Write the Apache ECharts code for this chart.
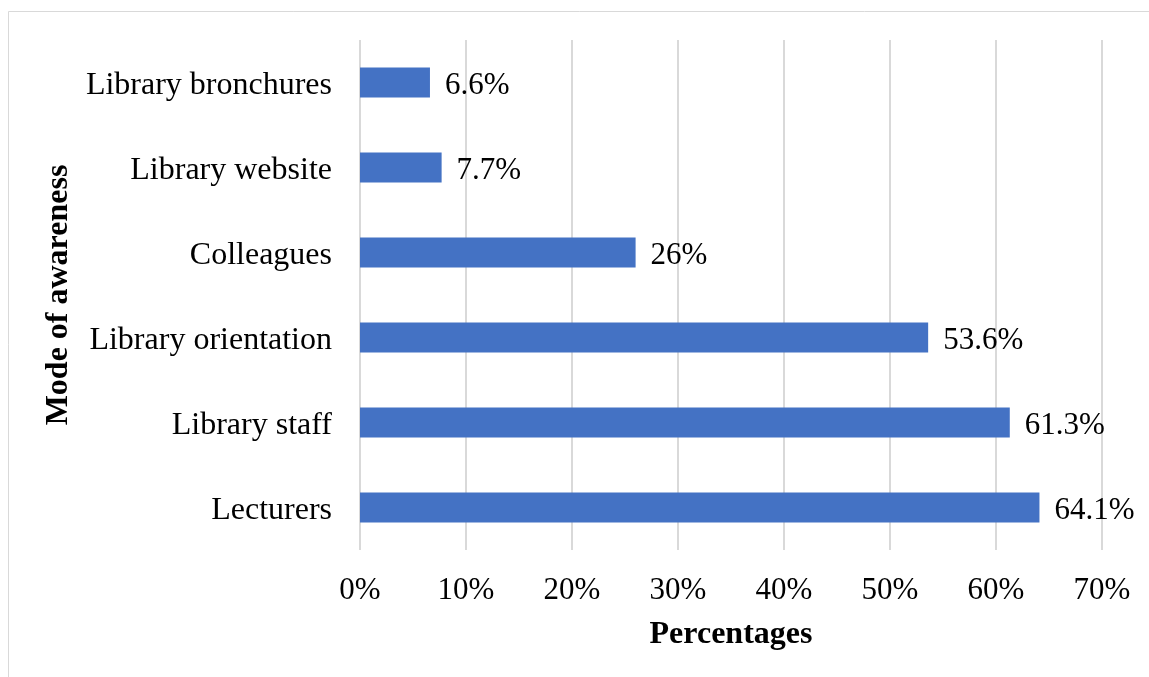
<!DOCTYPE html>
<html>
<head>
<meta charset="utf-8">
<script src="https://cdn.jsdelivr.net/npm/echarts@6/dist/echarts.min.js"></script>
<style>
html,body{margin:0;padding:0;background:#fff;}
#chart{width:1149px;height:677px;}
</style>
</head>
<body>
<div id="chart"></div>
<script>
const categories = ['Lecturers', 'Library staff', 'Library orientation', 'Colleagues', 'Library website', 'Library bronchures'];
const values = [64.1, 61.3, 53.6, 26, 7.7, 6.6];
const xTicks = [0, 10, 20, 30, 40, 50, 60, 70];

const font = '"Liberation Serif", "Times New Roman", serif';
const chart = echarts.init(document.getElementById('chart'), null, {renderer: 'canvas'});
chart.setOption({
  backgroundColor: '#ffffff',
  animation: false,
  graphic: [{
    type: 'rect', silent: true, z: -1,
    shape: {x: 8.5, y: 11.5, width: 1200, height: 720},
    style: {fill: 'none', stroke: '#d9d9d9', lineWidth: 1}
  }],
  grid: {left: 360, right: 47, top: 40, bottom: 127, containLabel: false},
  xAxis: {
    type: 'value',
    min: xTicks[0], max: xTicks[xTicks.length - 1], interval: 10,
    name: 'Percentages', nameLocation: 'middle', nameGap: 69,
    nameTextStyle: {fontFamily: font, fontSize: 32, fontWeight: 'bold', color: '#000'},
    axisLine: {show: false}, axisTick: {show: false},
    axisLabel: {formatter: v => v + '%', fontFamily: font, fontSize: 31, color: '#000', margin: 25},
    splitLine: {show: true, lineStyle: {color: '#d9d9d9', width: 2}}
  },
  yAxis: {
    type: 'category', data: categories,
    name: 'Mode of awareness', nameLocation: 'middle', nameGap: 271, nameRotate: 90,
    nameTextStyle: {fontFamily: font, fontSize: 32, fontWeight: 'bold', color: '#000'},
    axisLine: {show: false}, axisTick: {show: false},
    axisLabel: {fontFamily: font, fontSize: 32, color: '#000', margin: 28,
      formatter: v => '{t|' + v + '}',
      rich: {t: {fontFamily: font, fontSize: 32, color: '#000', padding: [6, 0, 0, 0]}}}
  },
  series: [{
    type: 'bar', data: values, barWidth: 30,
    itemStyle: {color: '#4472C4'},
    label: {show: true, position: 'right', distance: 15, offset: [0, 3], formatter: p => p.value + '%',
      fontFamily: font, fontSize: 31, color: '#000'}
  }]
});
</script>
</body>
</html>
